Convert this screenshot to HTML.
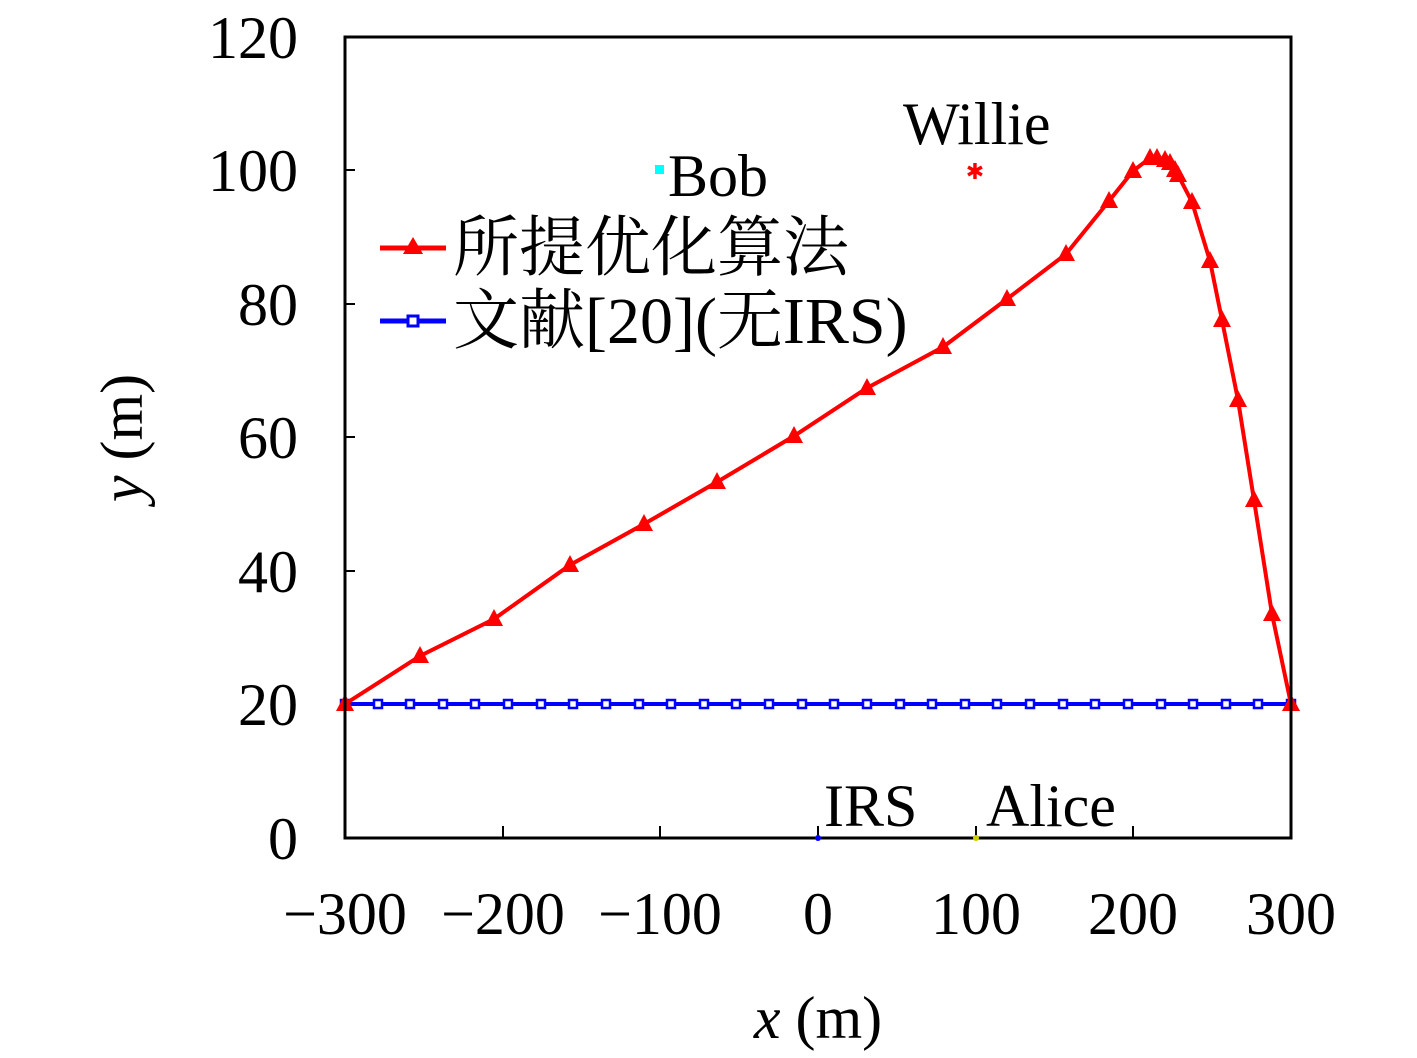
<!DOCTYPE html>
<html><head><meta charset="utf-8"><style>body{margin:0;background:#fff}svg{display:block}</style></head><body>
<svg width="1417" height="1058" xmlns="http://www.w3.org/2000/svg" font-family="'Liberation Serif','Noto Serif CJK SC',serif">
<rect width="1417" height="1058" fill="#fff"/>
<g stroke="#000" stroke-width="2">
<line x1="503" y1="838" x2="503" y2="826"/><line x1="660" y1="838" x2="660" y2="826"/><line x1="818" y1="838" x2="818" y2="826"/><line x1="976" y1="838" x2="976" y2="826"/><line x1="1133" y1="838" x2="1133" y2="826"/>
<line x1="345" y1="704" x2="355" y2="704"/><line x1="345" y1="571" x2="355" y2="571"/><line x1="345" y1="437" x2="355" y2="437"/><line x1="345" y1="304" x2="355" y2="304"/><line x1="345" y1="170" x2="355" y2="170"/>
</g>
<g fill="#000" font-size="60" text-anchor="end">
<text x="298" y="58">120</text><text x="298" y="191">100</text><text x="298" y="325">80</text><text x="298" y="458">60</text><text x="298" y="592">40</text><text x="298" y="725">20</text><text x="298" y="859">0</text>
</g>
<g fill="#000" font-size="60" text-anchor="middle">
<text x="345" y="934">−300</text><text x="503" y="934">−200</text><text x="660" y="934">−100</text><text x="818" y="934">0</text><text x="976" y="934">100</text><text x="1133" y="934">200</text><text x="1291" y="934">300</text>
<text x="818" y="1038"><tspan font-style="italic">x</tspan> (m)</text>
</g>
<text transform="translate(142,438) rotate(-90)" font-size="60" text-anchor="middle"><tspan font-style="italic">y</tspan> (m)</text>
<line x1="345" y1="704" x2="1291" y2="704" stroke="#00f" stroke-width="4"/>
<g fill="#fff" stroke="#00f" stroke-width="2.5">
<rect x="341" y="700" width="8" height="8"/><rect x="374" y="700" width="8" height="8"/><rect x="406" y="700" width="8" height="8"/><rect x="439" y="700" width="8" height="8"/><rect x="471" y="700" width="8" height="8"/><rect x="504" y="700" width="8" height="8"/><rect x="537" y="700" width="8" height="8"/><rect x="569" y="700" width="8" height="8"/><rect x="602" y="700" width="8" height="8"/><rect x="635" y="700" width="8" height="8"/><rect x="667" y="700" width="8" height="8"/><rect x="700" y="700" width="8" height="8"/><rect x="732" y="700" width="8" height="8"/><rect x="765" y="700" width="8" height="8"/><rect x="798" y="700" width="8" height="8"/><rect x="830" y="700" width="8" height="8"/><rect x="863" y="700" width="8" height="8"/><rect x="896" y="700" width="8" height="8"/><rect x="928" y="700" width="8" height="8"/><rect x="961" y="700" width="8" height="8"/><rect x="993" y="700" width="8" height="8"/><rect x="1026" y="700" width="8" height="8"/><rect x="1059" y="700" width="8" height="8"/><rect x="1091" y="700" width="8" height="8"/><rect x="1124" y="700" width="8" height="8"/><rect x="1157" y="700" width="8" height="8"/><rect x="1189" y="700" width="8" height="8"/><rect x="1222" y="700" width="8" height="8"/><rect x="1254" y="700" width="8" height="8"/><rect x="1287" y="700" width="8" height="8"/>
</g>
<polyline fill="none" stroke="#f00" stroke-width="4" points="345,704 420,656 494,619 570,565 644,524 717,482 794,436 867,388 943,347 1007,299 1066,254 1109,201 1133,171 1150,158 1157,158 1165,160 1170,163 1175,170 1178,175 1192,202 1210,261 1222,320 1238,400 1254,500 1272,614 1291,704"/>
<g fill="#f00">
<polygon points="345,694 336,711 354,711"/><polygon points="420,646 411,663 429,663"/><polygon points="494,609 485,626 503,626"/><polygon points="570,555 561,572 579,572"/><polygon points="644,514 635,531 653,531"/><polygon points="717,472 708,489 726,489"/><polygon points="794,426 785,443 803,443"/><polygon points="867,378 858,395 876,395"/><polygon points="943,337 934,354 952,354"/><polygon points="1007,289 998,306 1016,306"/><polygon points="1066,244 1057,261 1075,261"/><polygon points="1109,191 1100,208 1118,208"/><polygon points="1133,161 1124,178 1142,178"/><polygon points="1150,148 1141,165 1159,165"/><polygon points="1157,148 1148,165 1166,165"/><polygon points="1165,150 1156,167 1174,167"/><polygon points="1170,153 1161,170 1179,170"/><polygon points="1175,160 1166,177 1184,177"/><polygon points="1178,165 1169,182 1187,182"/><polygon points="1192,192 1183,209 1201,209"/><polygon points="1210,251 1201,268 1219,268"/><polygon points="1222,310 1213,327 1231,327"/><polygon points="1238,390 1229,407 1247,407"/><polygon points="1254,490 1245,507 1263,507"/><polygon points="1272,604 1263,621 1281,621"/><polygon points="1291,694 1282,711 1300,711"/>
</g>
<rect x="345" y="37" width="946" height="801" fill="none" stroke="#000" stroke-width="3"/>
<rect x="655" y="165" width="9" height="9" fill="#0ff"/>
<text x="668" y="196" font-size="60">Bob</text>
<text x="975" y="179" fill="#f00" font-size="22" text-anchor="middle">✱</text>
<text x="903" y="144" font-size="60">Willie</text>
<text x="824" y="826" font-size="60">IRS</text>
<text x="986" y="826" font-size="60">Alice</text>
<circle cx="818" cy="838" r="3" fill="#00f"/>
<circle cx="976" cy="838" r="3" fill="#cc0"/>
<line x1="380" y1="248" x2="446" y2="248" stroke="#f00" stroke-width="5"/>
<polygon points="413,237 403,254 423,254" fill="#f00"/>
<text x="453" y="270" font-size="66">所提优化算法</text>
<line x1="380" y1="321" x2="446" y2="321" stroke="#00f" stroke-width="5"/>
<rect x="408" y="316" width="10" height="10" fill="#fff" stroke="#00f" stroke-width="3"/>
<text x="453" y="343" font-size="66">文献[20](无IRS)</text>
</svg>
</body></html>
